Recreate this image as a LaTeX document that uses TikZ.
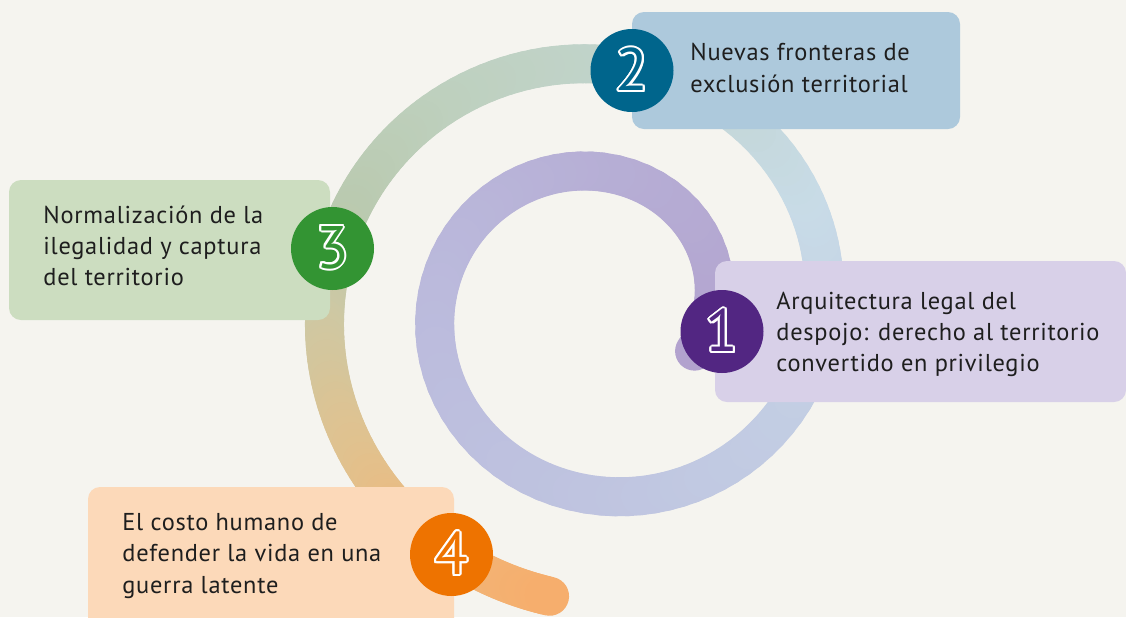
\documentclass[tikz,border=0pt]{standalone}
\usepackage{fontspec}
\setmainfont{PT Sans}[LetterSpace=3]
\usepackage{contour}
\contourlength{1pt}

\definecolor{bgcol}{RGB}{245,244,239}
\definecolor{txtcol}{RGB}{30,30,30}
\definecolor{boxa}{RGB}{216,208,232}
\definecolor{boxb}{RGB}{173,201,220}
\definecolor{boxc}{RGB}{204,221,192}
\definecolor{boxd}{RGB}{252,217,185}
\definecolor{dota}{RGB}{82,38,130}
\definecolor{dotb}{RGB}{0,101,140}
\definecolor{dotc}{RGB}{51,148,51}
\definecolor{dotd}{RGB}{238,115,0}
% colours along the spiral
\definecolor{sp0}{RGB}{178,162,206}
\definecolor{sp1}{RGB}{182,174,213}
\definecolor{sp2}{RGB}{187,186,220}
\definecolor{sp3}{RGB}{191,196,224}
\definecolor{sp4}{RGB}{195,207,228}
\definecolor{sp5}{RGB}{200,219,231}
\definecolor{sp6}{RGB}{193,212,205}
\definecolor{sp7}{RGB}{190,208,190}
\definecolor{sp8}{RGB}{186,202,176}
\definecolor{sp9}{RGB}{206,200,163}
\definecolor{sp10}{RGB}{226,193,141}
\definecolor{sp11}{RGB}{240,183,122}
\definecolor{sp12}{RGB}{246,174,109}

\begin{document}
\begin{tikzpicture}[x=0.5pt, y=-0.5pt,
    declare function={spr(\t)=111.1+0.307*\t; spx(\t)=601.9+spr(\t)*cos(\t); spy(\t)=307.1-0.974*spr(\t)*sin(\t);},
    spiral/.style={line width=19.5pt, line cap=round},
    box/.style={rounded corners=6pt, inner sep=0pt},
    badge/.style={circle, minimum size=41.5pt, inner sep=0pt, font=\fontsize{30}{30}\selectfont},
    txt/.style={anchor=west, align=left, inner sep=0pt, text=txtcol, font=\fontsize{12.2}{15.6}\selectfont}]
  \useasboundingbox (0,0) rectangle (1126,617);
  \clip (0,0) rectangle (1126,617);
  \fill[bgcol] (0,0) rectangle (1126,617);

  % Spiral, coloured piece by piece
  \foreach \ta/\tb/\ca/\cb in {-26/90/sp0/sp1, 90/180/sp1/sp2, 180/270/sp2/sp3, 270/345/sp3/sp4,
      345/390/sp4/sp5, 390/445/sp5/sp6, 445/490/sp6/sp7, 490/520/sp7/sp8, 520/545/sp8/sp9,
      545/575/sp9/sp10, 575/600/sp10/sp11, 600/620/sp11/sp12}
  {
    \foreach \s in {0,...,19}
    {
      \pgfmathsetmacro\anga{\ta+(\tb-\ta)*\s/20}
      \pgfmathsetmacro\angb{\ta+(\tb-\ta)*(\s+1)/20}
      \pgfmathsetmacro\pc{100-100*(\s+0.5)/20}
      \draw[spiral, \ca!\pc!\cb] ({spx(\anga)},{spy(\anga)}) -- ({spx(\angb)},{spy(\angb)});
    }
  }

  % Text boxes
  \node[box, fill=boxa, minimum width=205.5pt, minimum height=70.5pt] (b1) at (920.5,331.5) {};
  \node[box, fill=boxb, minimum width=164pt, minimum height=58.5pt] (b2) at (796,70.5) {};
  \node[box, fill=boxc, minimum width=160.5pt, minimum height=70pt] (b3) at (169.5,250) {};
  \node[box, fill=boxd, minimum width=183pt, minimum height=76.5pt] (b4) at (271,563.5) {};

  \node[txt] (t1) at (776,334.5) {Arquitectura legal del\\despojo: derecho al territorio\\convertido en privilegio};
  \node[txt] (t2) at (690,68) {Nuevas fronteras de\\exclusión territorial};
  \node[txt] (t3) at (43,246) {Normalización de la\\ilegalidad y captura\\del territorio};
  \node[txt] (t4) at (122,556) {El costo humano de\\defender la vida en una\\guerra latente};

  % Numbered badges
  \foreach \x/\y/\c/\n in {722/331.5/dota/1, 632/70.5/dotb/2, 332.5/248.5/dotc/3, 451.5/554.5/dotd/4}
  {
    \node[badge, fill=\c, text=\c] (n\n) at (\x,\y) {\contour{white}{\n}};
  }
\end{tikzpicture}
\end{document}
